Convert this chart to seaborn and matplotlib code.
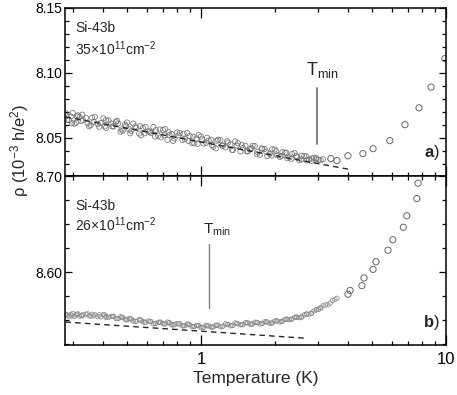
import matplotlib
matplotlib.use("Agg")
import matplotlib.pyplot as plt
from matplotlib import ticker
import seaborn as sns

# style
sns.set_theme(style="ticks")
plt.rcParams['font.family'] = ['Liberation Sans', 'DejaVu Sans']
plt.rcParams.update({
    'mathtext.fontset': 'custom',
    'mathtext.rm': 'Liberation Sans',
    'mathtext.it': 'Liberation Sans:italic',
    'mathtext.bf': 'Liberation Sans:bold',
    'axes.edgecolor': 'black',
    'axes.linewidth': 1.1,
    'xtick.color': 'black',
    'ytick.color': 'black',
})

# ---- panel a) 35x10^11 cm^-2 : three dense sweeps + sparse high-T points
T_a1 = [0.28, 0.29, 0.30, 0.31, 0.32, 0.33, 0.35, 0.36, 0.38, 0.40, 0.41, 0.43, 0.45, 0.47,
        0.49, 0.51, 0.53, 0.56, 0.58, 0.61, 0.64, 0.67, 0.70, 0.73, 0.76, 0.80, 0.84, 0.88,
        0.92, 0.96, 1.00, 1.05, 1.10, 1.15, 1.20, 1.26, 1.32, 1.38, 1.45, 1.52, 1.59, 1.66,
        1.74, 1.82, 1.91, 2.00, 2.10, 2.20, 2.30, 2.41, 2.52, 2.64, 2.76, 2.89, 3.02, 3.15]
rho_a1 = [8.0690, 8.0635, 8.0690, 8.0615, 8.0660, 8.0636, 8.0588, 8.0654, 8.0606, 8.0649,
          8.0575, 8.0609, 8.0622, 8.0546, 8.0600, 8.0564, 8.0609, 8.0531, 8.0576, 8.0549,
          8.0582, 8.0515, 8.0559, 8.0483, 8.0527, 8.0540, 8.0483, 8.0536, 8.0459, 8.0493,
          8.0508, 8.0460, 8.0484, 8.0417, 8.0481, 8.0425, 8.0448, 8.0471, 8.0394, 8.0437,
          8.0411, 8.0435, 8.0368, 8.0412, 8.0375, 8.0408, 8.0351, 8.0385, 8.0348, 8.0381,
          8.0325, 8.0358, 8.0332, 8.0345, 8.0330, 8.0333]
T_a2 = [0.285, 0.295, 0.305, 0.315, 0.325, 0.34, 0.355, 0.37, 0.39, 0.405, 0.42, 0.44, 0.46,
        0.48, 0.50, 0.52, 0.545, 0.57, 0.595, 0.625, 0.655, 0.685, 0.715, 0.745, 0.78, 0.82,
        0.86, 0.90, 0.94, 0.98, 1.025, 1.075, 1.125, 1.175, 1.23, 1.29, 1.35, 1.415, 1.485,
        1.555, 1.625, 1.70, 1.78, 1.865, 1.955, 2.05, 2.15, 2.25, 2.355, 2.465, 2.58, 2.70,
        2.83, 2.95]
rho_a2 = [8.0638, 8.0663, 8.0608, 8.0672, 8.0628, 8.0652, 8.0596, 8.0660, 8.0612, 8.0587,
          8.0632, 8.0586, 8.0609, 8.0553, 8.0617, 8.0551, 8.0576, 8.0518, 8.0582, 8.0535,
          8.0558, 8.0502, 8.0566, 8.0520, 8.0493, 8.0536, 8.0489, 8.0512, 8.0456, 8.0520,
          8.0454, 8.0477, 8.0430, 8.0484, 8.0438, 8.0461, 8.0404, 8.0457, 8.0420, 8.0394,
          8.0438, 8.0390, 8.0415, 8.0358, 8.0411, 8.0364, 8.0388, 8.0341, 8.0374, 8.0348,
          8.0361, 8.0324, 8.0338, 8.0342]
T_a4 = [0.283, 0.298, 0.312, 0.328, 0.345, 0.365, 0.385, 0.41, 0.435, 0.455, 0.475, 0.495,
        0.515, 0.54, 0.565, 0.59, 0.62, 0.65, 0.68, 0.71, 0.74, 0.77, 0.81, 0.85, 0.89, 0.93,
        0.97, 1.01, 1.06, 1.11, 1.16, 1.22, 1.28, 1.34, 1.40, 1.47, 1.54, 1.61, 1.69, 1.77,
        1.85, 1.94, 2.03, 2.13, 2.23, 2.34, 2.45, 2.57, 2.69, 2.82, 2.96, 3.08]
rho_a4 = [8.0668, 8.0611, 8.0664, 8.0677, 8.0610, 8.0622, 8.0584, 8.0635, 8.0587, 8.0630,
          8.0564, 8.0588, 8.0533, 8.0586, 8.0589, 8.0533, 8.0546, 8.0509, 8.0563, 8.0517,
          8.0541, 8.0475, 8.0518, 8.0531, 8.0474, 8.0508, 8.0452, 8.0486, 8.0499, 8.0443,
          8.0476, 8.0439, 8.0472, 8.0406, 8.0439, 8.0442, 8.0395, 8.0419, 8.0372, 8.0416,
          8.0389, 8.0362, 8.0396, 8.0359, 8.0383, 8.0336, 8.0359, 8.0332, 8.0356, 8.0319,
          8.0332, 8.0326]
T_a3 = [3.39, 3.59, 3.98, 4.58, 5.04, 5.90, 6.80, 7.76, 8.69, 9.90]
rho_a3 = [8.0338, 8.0323, 8.0360, 8.0377, 8.0415, 8.0477, 8.0600, 8.0730, 8.0890, 8.1110]
fit_a_T = [0.28, 4.06]
fit_a_rho = [8.0660, 8.0254]
tmin_a_T = [2.97, 2.97]
tmin_a_rho = [8.045, 8.088]

# ---- panel b) 26x10^11 cm^-2
T_b1 = T_a1 + [3.30, 3.45, 3.59]
rho_b1 = [8.5560, 8.5542, 8.5569, 8.5555, 8.5540, 8.5559, 8.5547, 8.5560, 8.5537, 8.5558,
          8.5540, 8.5538, 8.5517, 8.5535, 8.5508, 8.5517, 8.5490, 8.5508, 8.5483, 8.5490,
          8.5460, 8.5477, 8.5465, 8.5480, 8.5450, 8.5465, 8.5440, 8.5460, 8.5435, 8.5445,
          8.5422, 8.5445, 8.5427, 8.5446, 8.5430, 8.5460, 8.5440, 8.5470, 8.5450, 8.5473,
          8.5456, 8.5478, 8.5460, 8.5482, 8.5466, 8.5490, 8.5480, 8.5505, 8.5505, 8.5530,
          8.5525, 8.5555, 8.5562, 8.5595, 8.5612, 8.5650, 8.5660, 8.5705, 8.5728]
T_b2 = T_a2 + [3.08, 3.22, 3.37, 3.52]
rho_b2 = [8.5545, 8.5558, 8.5540, 8.5565, 8.5548, 8.5562, 8.5541, 8.5555, 8.5535, 8.5552,
          8.5528, 8.5540, 8.5515, 8.5528, 8.5502, 8.5512, 8.5488, 8.5500, 8.5478, 8.5485,
          8.5465, 8.5478, 8.5460, 8.5472, 8.5452, 8.5462, 8.5443, 8.5452, 8.5432, 8.5442,
          8.5425, 8.5440, 8.5428, 8.5448, 8.5436, 8.5455, 8.5445, 8.5462, 8.5452, 8.5470,
          8.5460, 8.5475, 8.5465, 8.5480, 8.5470, 8.5492, 8.5490, 8.5510, 8.5512, 8.5528,
          8.5535, 8.5562, 8.5572, 8.5605, 8.5625, 8.5658, 8.5678, 8.5718]
T_b4 = T_a4
rho_b4 = [8.5559, 8.5542, 8.5561, 8.5545, 8.5565, 8.5544, 8.5555, 8.5529, 8.5539, 8.5517,
          8.5528, 8.5505, 8.5513, 8.5488, 8.5501, 8.5478, 8.5487, 8.5464, 8.5478, 8.5462,
          8.5472, 8.5451, 8.5460, 8.5440, 8.5452, 8.5432, 8.5443, 8.5423, 8.5440, 8.5427,
          8.5445, 8.5433, 8.5454, 8.5444, 8.5466, 8.5454, 8.5472, 8.5458, 8.5476, 8.5465,
          8.5482, 8.5469, 8.5491, 8.5486, 8.5511, 8.5508, 8.5533, 8.5530, 8.5564, 8.5571,
          8.5610, 8.5632]
T_b3 = [3.98, 4.06, 4.54, 4.63, 5.04, 5.18, 5.80, 6.07, 6.70, 6.92, 7.60, 7.69]
rho_b3 = [8.577, 8.581, 8.586, 8.594, 8.603, 8.611, 8.623, 8.634, 8.647, 8.659, 8.677, 8.693]
fit_b_T = [0.28, 2.70]
fit_b_rho = [8.5480, 8.5310]
tmin_b_T = [1.078, 1.078]
tmin_b_rho = [8.5625, 8.630]

xticks = [1, 10]
xticklabels = ['1', '10']
yticks_a = [8.05, 8.10, 8.15]
yticklabels_a = ['8.05', '8.10', '8.15']
yticks_b = [8.60, 8.70]
yticklabels_b = ['8.60', '8.70']

fig, (ax_a, ax_b) = plt.subplots(2, 1, sharex=True, figsize=(4.57, 3.95), dpi=100)
fig.subplots_adjust(left=65/457, right=446/457, top=1-8/395, bottom=1-345/395, hspace=0)

panels = [
    (ax_a, [(T_a1, rho_a1), (T_a2, rho_a2), (T_a4, rho_a4)], (T_a3, rho_a3),
     (fit_a_T, fit_a_rho), (tmin_a_T, tmin_a_rho), 14, '0.45'),
    (ax_b, [(T_b1, rho_b1), (T_b2, rho_b2), (T_b4, rho_b4)], (T_b3, rho_b3),
     (fit_b_T, fit_b_rho), (tmin_b_T, tmin_b_rho), 10, '0.55'),
]
for ax, dense, sparse, fit, tmin, msize, mcol in panels:
    sns.lineplot(x=fit[0], y=fit[1], ax=ax, color='0.15', linewidth=1.0,
                 linestyle=(0, (4, 3)))
    for tt, rr in dense:
        sns.scatterplot(x=tt, y=rr, ax=ax, marker='o', s=msize, facecolor='none',
                        edgecolor=mcol, linewidth=0.55, legend=False)
    sns.scatterplot(x=sparse[0], y=sparse[1], ax=ax, marker='o', s=20, facecolor='none',
                    edgecolor='0.4', linewidth=0.7, legend=False)
    ax.plot(tmin[0], tmin[1], color='0.5', linewidth=1.4 if ax is ax_a else 1.0)
    ax.set_xscale('log')
    ax.set_xlim(0.279, 10)
    ax.tick_params(which='both', direction='in', top=True, right=True, width=0.9,
                   labelsize=10, pad=2)
    ax.tick_params(which='major', length=5)
    ax.tick_params(which='minor', length=3)
    ax.set_xlabel('')
    ax.set_ylabel('')

ax_a.set_ylim(8.02, 8.15)
ax_a.set_yticks(yticks_a, yticklabels_a)
ax_a.yaxis.set_minor_locator(ticker.MultipleLocator(0.01))
ax_b.set_ylim(8.524, 8.70)
ax_b.set_yticks(yticks_b, yticklabels_b)
ax_b.yaxis.set_minor_locator(ticker.MultipleLocator(0.025))

ax_b.set_xticks(xticks, xticklabels)
ax_b.xaxis.set_minor_locator(ticker.LogLocator(base=10, subs=[2, 3, 4, 5, 6, 7, 8, 9]))
ax_b.xaxis.set_minor_formatter(ticker.NullFormatter())
ax_b.tick_params(axis='x', which='major', labelsize=12, pad=5, length=7)
ax_a.tick_params(axis='x', which='major', length=7)
ax_b.set_xlabel('Temperature (K)', fontsize=12.5, labelpad=3)

fig.text(20/457, 1-150/395, r'ρ (10$^{-3}$ h/e$^{2}$)', rotation=90, ha='center',
         va='center', fontsize=12)

# annotations
ax_a.text(0.026, 0.857, 'Si-43b', transform=ax_a.transAxes, fontsize=10)
ax_a.text(0.026, 0.72, r'35×10$^{11}$cm$^{-2}$', transform=ax_a.transAxes, fontsize=10)
ax_a.text(2.68, 8.0985, r'T$_{\rm min}$', fontsize=13)
ax_a.text(0.984, 0.113, r'$\mathbf{a}$)', transform=ax_a.transAxes, ha='right', fontsize=12)

ax_b.text(0.026, 0.80, 'Si-43b', transform=ax_b.transAxes, fontsize=10)
ax_b.text(0.026, 0.675, r'26×10$^{11}$cm$^{-2}$', transform=ax_b.transAxes, fontsize=10)
ax_b.text(1.02, 8.6406, r'T$_{\rm min}$', fontsize=11)
ax_b.text(0.984, 0.107, r'$\mathbf{b}$)', transform=ax_b.transAxes, ha='right', fontsize=12)

fig.savefig('out.png', dpi=100)
